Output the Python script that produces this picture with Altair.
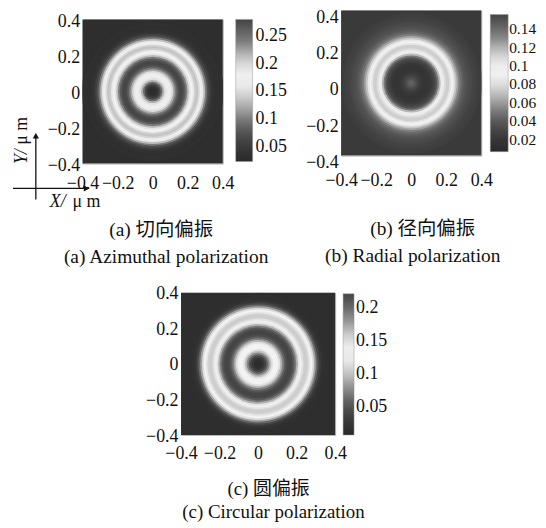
import math
import altair as alt
import pandas as pd

SERIF = "Liberation Serif"
MIXED = "Liberation Serif, Noto Sans CJK SC"
INK = "#111111"

# ---------------- data ----------------
AXIS_DOMAIN = [-0.4, 0.4]
AXIS_TICKS = [-0.4, -0.2, 0, 0.2, 0.4]

# outer edge (in um) of each radial band of the focal-spot intensity
RING_OUTER = [0.005, 0.015, 0.025, 0.035, 0.045, 0.055, 0.065, 0.075, 0.085, 0.095,
              0.105, 0.115, 0.125, 0.135, 0.145, 0.155, 0.165, 0.175, 0.185, 0.195,
              0.205, 0.215, 0.225, 0.235, 0.245, 0.255, 0.265, 0.275, 0.285, 0.295,
              0.305, 0.315, 0.325, 0.335, 0.345, 0.355, 0.365, 0.375, 0.385, 0.395,
              0.40]

# (a) azimuthal polarization: intensity per band, and in the corners
AZIMUTHAL = [0.024, 0.026, 0.032, 0.045, 0.065, 0.09, 0.125, 0.15, 0.162, 0.166,
             0.162, 0.148, 0.122, 0.098, 0.08, 0.068, 0.064, 0.068, 0.08, 0.1,
             0.13, 0.155, 0.17, 0.19, 0.205, 0.21, 0.2, 0.18, 0.16, 0.13,
             0.1, 0.075, 0.058, 0.045, 0.038, 0.034, 0.033, 0.034, 0.034, 0.033,
             0.031]
AZIMUTHAL_CORNER = 0.03

# (b) radial polarization
RADIAL = [0.043, 0.042, 0.039, 0.034, 0.029, 0.025, 0.022, 0.02, 0.019, 0.019,
          0.02, 0.022, 0.026, 0.03, 0.038, 0.05, 0.068, 0.088, 0.1, 0.108,
          0.112, 0.112, 0.106, 0.096, 0.085, 0.072, 0.061, 0.052, 0.046, 0.042,
          0.039, 0.037, 0.035, 0.033, 0.031, 0.029, 0.028, 0.027, 0.026, 0.025,
          0.024]
RADIAL_CORNER = 0.023

# (c) circular polarization
CIRCULAR = [0.008, 0.01, 0.015, 0.024, 0.038, 0.056, 0.077, 0.098, 0.117, 0.13,
            0.134, 0.128, 0.113, 0.094, 0.074, 0.058, 0.047, 0.041, 0.04, 0.044,
            0.054, 0.07, 0.092, 0.116, 0.136, 0.15, 0.158, 0.16, 0.157, 0.148,
            0.133, 0.112, 0.087, 0.062, 0.042, 0.028, 0.02, 0.016, 0.015, 0.014,
            0.014]
CIRCULAR_CORNER = 0.013

CBAR_A_DOMAIN = [0.023, 0.28]
CBAR_A_TICKS = [0.05, 0.1, 0.15, 0.2, 0.25]
CBAR_B_DOMAIN = [0.007, 0.156]
CBAR_B_TICKS = [0.02, 0.04, 0.06, 0.08, 0.1, 0.12, 0.14]
CBAR_C_DOMAIN = [0.007, 0.222]
CBAR_C_TICKS = [0.05, 0.1, 0.15, 0.2]

# grey rendition of the colormap (dark - white - dark)
GRAY_FRACTIONS = [0.0, 0.1, 0.2, 0.3, 0.4, 0.5, 0.58, 0.66, 0.75, 0.85, 1.0]
GRAY_COLORS = ["#2a2a2a", "#383838", "#505050", "#7c7c7c", "#b4b4b4", "#e2e2e2",
               "#f5f5f5", "#e6e6e6", "#b8b8b8", "#7a7a7a", "#444444"]

CAPTIONS_A = ["(a) 切向偏振", "(a) Azimuthal polarization"]
CAPTIONS_B = ["(b) 径向偏振", "(b) Radial polarization"]
CAPTIONS_C = ["(c) 圆偏振", "(c) Circular polarization"]
AXIS_NAMES = ["Y/", "μ m", "X/", "μ m"]


# ---------------- building blocks ----------------
def one_row(**cols):
    return pd.DataFrame({k: [v] for k, v in cols.items()})


def color_channel(cdomain, cticks, lx, ly, llen, lthick, loff, lsize):
    lo, hi = cdomain
    stops = [lo + f * (hi - lo) for f in GRAY_FRACTIONS]
    return alt.Color(
        "v:Q",
        scale=alt.Scale(domain=stops, range=GRAY_COLORS, interpolate="rgb"),
        legend=alt.Legend(title=None, orient="none", legendX=lx, legendY=ly,
                          direction="vertical", gradientLength=llen,
                          gradientThickness=lthick, values=cticks, format=".2~f",
                          labelFont=SERIF, labelFontSize=lsize, labelColor=INK,
                          labelOffset=loff, labelOverlap=False,
                          gradientStrokeColor="#999999", gradientStrokeWidth=0.5),
    )


def field_layers(values, corner, color, radius_px, ylab_off, xlab_pad):
    common = dict(values=AXIS_TICKS, format="~g", title=None, domain=False, ticks=False,
                  grid=False, labelFont=SERIF, labelFontSize=18, labelColor=INK,
                  labelFlush=False, labelOverlap=False)
    xa = alt.Axis(labelPadding=xlab_pad, **common)
    ya = alt.Axis(labelPadding=3, labelOffset=ylab_off, **common)
    sc = alt.Scale(domain=AXIS_DOMAIN, nice=False, zero=False)
    bg = alt.Chart(one_row(x=AXIS_DOMAIN[0], x2=AXIS_DOMAIN[1], y=AXIS_DOMAIN[0],
                           y2=AXIS_DOMAIN[1], v=corner)).mark_rect().encode(
        x=alt.X("x:Q", scale=sc, axis=xa), x2="x2:Q",
        y=alt.Y("y:Q", scale=sc, axis=ya), y2="y2:Q",
        color=color,
    )
    df = pd.DataFrame({"r": RING_OUTER, "v": values}).iloc[::-1].reset_index(drop=True)
    rings = alt.Chart(df).mark_arc(clip=True, theta=0, theta2=2 * math.pi).encode(
        radius=alt.Radius("r:Q", stack=False,
                          scale=alt.Scale(type="linear", domain=[0, 0.4],
                                          range=[0, radius_px], zero=True)),
        color=color,
    )
    return [bg, rings]


def text_mark(t, x, y, size=19.5, font=MIXED, style="normal", angle=0):
    return alt.Chart(one_row(t=t)).mark_text(
        font=font, fontSize=size, fontStyle=style, angle=angle, align="center",
        baseline="middle", color=INK).encode(text="t:N", x=alt.value(x), y=alt.value(y))


def captions(lines, xs, ys, size=19.5):
    return [text_mark(t, x, y, size=size) for t, x, y in zip(lines, xs, ys)]


def anchor(x, y):
    # invisible point that fixes how far a panel's layout box reaches
    return alt.Chart(one_row(k=0)).mark_point(opacity=0, size=1).encode(
        x=alt.value(x), y=alt.value(y))


def spacer():
    return alt.Chart(one_row(k=0)).mark_point(opacity=0, size=1).encode(
        x=alt.value(0), y=alt.value(0)).properties(
        width=1, height=1, view=alt.ViewBackground(strokeWidth=0))


# ---------------- panel (a) ----------------
rule_src = one_row(k=0)
arrow_h = alt.Chart(rule_src).mark_rule(color=INK, strokeWidth=1.3).encode(
    x=alt.value(-70), x2=alt.value(3), y=alt.value(170))
arrow_v = alt.Chart(rule_src).mark_rule(color=INK, strokeWidth=1.3).encode(
    x=alt.value(-47), y=alt.value(119), y2=alt.value(181))
head_h = alt.Chart(rule_src).mark_point(shape="triangle-right", filled=True, size=40,
                                        color=INK, opacity=1).encode(
    x=alt.value(4), y=alt.value(170))
head_v = alt.Chart(rule_src).mark_point(shape="triangle-up", filled=True, size=40,
                                        color=INK, opacity=1).encode(
    x=alt.value(-47), y=alt.value(117))
y_name = [text_mark(AXIS_NAMES[0], -61, 138, size=18, font=SERIF, style="italic", angle=270),
          text_mark(AXIS_NAMES[1], -61, 112, size=18, font=SERIF, angle=270)]
x_name = [text_mark(AXIS_NAMES[2], -25, 184, size=18, font=SERIF, style="italic"),
          text_mark(AXIS_NAMES[3], 4, 184, size=18, font=SERIF)]

color_a = color_channel(CBAR_A_DOMAIN, CBAR_A_TICKS, 154, 0, 143, 17, 3, 18)
panel_a = alt.layer(
    *field_layers(AZIMUTHAL, AZIMUTHAL_CORNER, color_a, 71.5, 2, 11),
    arrow_h, arrow_v, head_h, head_v, *y_name, *x_name,
    *captions(CAPTIONS_A, [79, 84], [212, 239]),
    anchor(212, 70), anchor(70, 250),
).properties(width=141, height=145)

# ---------------- panel (b) ----------------
color_b = color_channel(CBAR_B_DOMAIN, CBAR_B_TICKS, 150, 4, 138, 18, 1, 15.5)
panel_b = alt.layer(
    *field_layers(RADIAL, RADIAL_CORNER, color_b, 71.75, 7, 16),
    *captions(CAPTIONS_B, [82, 72], [220, 247]),
    anchor(-43, 70),
).properties(width=141, height=146)

# ---------------- panel (c) ----------------
color_c = color_channel(CBAR_C_DOMAIN, CBAR_C_TICKS, 163, 1, 142, 11, 2, 18)
panel_c = alt.layer(
    *field_layers(CIRCULAR, CIRCULAR_CORNER, color_c, 71.5, 1, 10),
    *captions(CAPTIONS_C, [88, 93], [197, 220], size=19),
    anchor(-40, 70), anchor(70, -15),
).properties(width=155, height=143)

col_a = alt.vconcat(spacer(), panel_a, spacing=0).resolve_scale(
    color="independent", radius="independent")
top_row = alt.hconcat(col_a, panel_b, spacing=3).resolve_scale(
    color="independent", radius="independent")
row_c = alt.hconcat(spacer(), panel_c, spacing=57).resolve_scale(
    color="independent", radius="independent")

chart = alt.vconcat(top_row, row_c, spacing=8).resolve_scale(
    color="independent", radius="independent").properties(
    padding={"left": 3, "top": -2, "right": 0, "bottom": 0},
    background="white",
).configure_view(stroke="#b5b5b5", strokeWidth=1)

chart.save("out.html", embed_options={"renderer": "svg", "actions": False})
